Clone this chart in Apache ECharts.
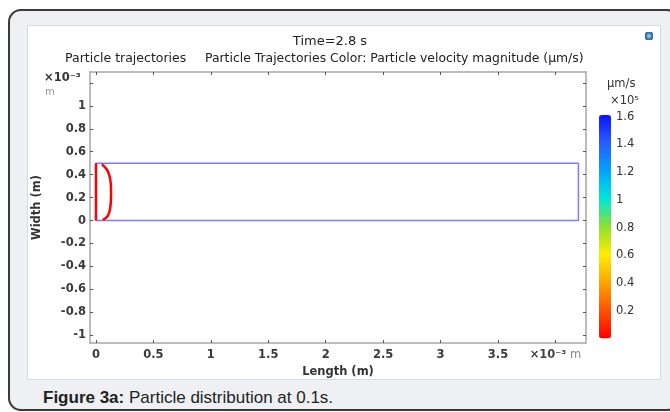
<!DOCTYPE html>
<html>
<head>
<meta charset="utf-8">
<script src="https://cdn.jsdelivr.net/npm/echarts@6/dist/echarts.min.js"></script>
<style>
  html, body { margin: 0; padding: 0; background: #fff; }
  .page { position: relative; width: 670px; height: 412px; overflow: hidden; }
  .panel {
    position: absolute; left: 8px; top: 9px; width: 668px; height: 398px;
    border: 2px solid #3a3a3a; border-radius: 13px; background: #eef0f3;
  }
  .plot-bg {
    position: absolute; left: 27px; top: 25px; width: 632px; height: 353px;
    background: #fff; border: 1px solid #d6d9dd;
  }
  .caption {
    position: absolute; left: 43px; top: 388px;
    font-family: "Liberation Sans", Arial, sans-serif; font-size: 17px; color: #222;
  }
  .caption b { font-weight: bold; }
  #chart { position: absolute; left: 0; top: 0; width: 670px; height: 412px; }
</style>
</head>
<body>
<div class="page">
  <div class="panel"></div>
  <div class="plot-bg"></div>
  <div class="caption"><b>Figure 3a:</b> Particle distribution at 0.1s.</div>
  <div id="chart"></div>
</div>
<script>
// axis ranges (x10^-3 m)
const xRange = [-0.052, 4.266]
const yRange = [-1.068, 1.295]
const xTicks = [0, 0.5, 1, 1.5, 2, 2.5, 3, 3.5, 4]
const yTicks = [-1, -0.8, -0.6, -0.4, -0.2, 0, 0.2, 0.4, 0.6, 0.8, 1, 1.2]
const yLabelTicks = [-1, -0.8, -0.6, -0.4, -0.2, 0, 0.2, 0.4, 0.6, 0.8, 1]

// channel geometry and particle trajectories
const channelOutline = [[0, 0], [4.2, 0], [4.2, 0.5], [0, 0.5]]
const inletLine = [[0, 0], [0, 0.5]]
const particleFront = [
  [0.05, 0.49], [0.078, 0.465], [0.105, 0.425], [0.124, 0.36], [0.131, 0.28],
  [0.131, 0.2], [0.125, 0.12], [0.112, 0.06], [0.09, 0.025], [0.058, 0.008]
]

// colour legend (x10^5 µm/s)
const colorRange = [0, 1.608]
const colorTicks = [0.2, 0.4, 0.6, 0.8, 1, 1.2, 1.4, 1.6]
const rainbow = ['#ff0000', '#ff5200', '#ffa400', '#ffee00', '#8ee030', '#00e6d8', '#00a4ff', '#2a5cff', '#0a14ff']

const FONT = '"DejaVu Sans", "Open Sans", sans-serif'
const axisGrey = '#a6a6a6'
const tickDark = '#555'

const chart = echarts.init(document.getElementById('chart'), null, { renderer: 'canvas' })

function boxAxis(pos, range, ticks, extra) {
  return Object.assign({
    type: 'value',
    gridIndex: 0,
    position: pos,
    min: range[0],
    max: range[1],
    axisLine: { show: true, onZero: false, lineStyle: { color: axisGrey, width: 1.5 } },
    axisTick: { show: true, inside: true, length: 3, customValues: ticks, lineStyle: { color: tickDark, width: 1 } },
    axisLabel: { show: false },
    splitLine: { show: false }
  }, extra)
}

const labelStyle = { color: '#3a3a3a', fontSize: 11.5, fontWeight: 'bold', fontFamily: FONT }

chart.setOption({
  animation: false,
  textStyle: { fontFamily: FONT },
  grid: [
    { left: 90, top: 72, width: 496, height: 271 },
    { left: 599, top: 115.5, width: 12, height: 223 }
  ],
  xAxis: [
    boxAxis('bottom', xRange, xTicks, {
      name: 'Length (m)',
      nameLocation: 'middle',
      nameGap: 20,
      nameTextStyle: { color: '#333', fontSize: 11.5, fontWeight: 'bold', fontFamily: FONT },
      axisLabel: Object.assign({
        show: true,
        customValues: xTicks,
        margin: 6,
        formatter: v => (v === 4 ? '{a|×10⁻³}{b| m}' : String(v)),
        rich: {
          a: { color: '#444', fontSize: 11.5, fontWeight: 'bold', fontFamily: FONT },
          b: { color: '#888', fontSize: 11.5, fontWeight: 'normal', fontFamily: FONT }
        }
      }, labelStyle)
    }),
    boxAxis('top', xRange, xTicks, {}),
    { type: 'value', gridIndex: 1, show: false, min: 0, max: 1 }
  ],
  yAxis: [
    boxAxis('left', yRange, yTicks, {
      name: 'Width (m)',
      nameLocation: 'middle',
      nameGap: 47,
      nameTextStyle: { color: '#333', fontSize: 11.5, fontWeight: 'bold', fontFamily: FONT },
      axisLabel: Object.assign({ show: true, customValues: yLabelTicks, margin: 4 }, labelStyle)
    }),
    boxAxis('right', yRange, yTicks, {}),
    {
      type: 'value',
      gridIndex: 1,
      position: 'right',
      min: colorRange[0],
      max: colorRange[1],
      axisLine: { show: false },
      axisTick: { show: true, length: 3, customValues: colorTicks, lineStyle: { color: '#333' } },
      axisLabel: { show: true, customValues: colorTicks, margin: 5, color: '#333', fontSize: 11.5, fontFamily: FONT },
      splitLine: { show: false }
    }
  ],
  visualMap: {
    type: 'continuous',
    seriesIndex: [],
    min: colorRange[0],
    max: colorRange[1],
    left: 599,
    top: 115,
    padding: 0,
    itemWidth: 12,
    itemHeight: 223.5,
    calculable: false,
    text: null,
    inRange: { color: rainbow }
  },
  graphic: [
    { type: 'text', x: 330, y: 42, style: { text: 'Time=2.8 s', fill: '#222', font: '13px ' + FONT, textAlign: 'center', textVerticalAlign: 'middle' } },
    { type: 'text', x: 65, y: 59, style: { text: 'Particle trajectories', fill: '#222', font: '12.5px ' + FONT, textAlign: 'left', textVerticalAlign: 'middle' } },
    { type: 'text', x: 205, y: 59, style: { text: 'Particle Trajectories Color: Particle velocity magnitude (µm/s)', fill: '#222', font: '12.4px ' + FONT, textAlign: 'left', textVerticalAlign: 'middle' } },
    { type: 'text', x: 44, y: 78, style: { text: '×10⁻³', fill: '#333', font: 'bold 11.5px ' + FONT, textAlign: 'left', textVerticalAlign: 'middle' } },
    { type: 'text', x: 45, y: 92, style: { text: 'm', fill: '#999', font: '10px ' + FONT, textAlign: 'left', textVerticalAlign: 'middle' } },
    { type: 'text', x: 607, y: 84, style: { text: 'µm/s', fill: '#333', font: '11.5px ' + FONT, textAlign: 'left', textVerticalAlign: 'middle' } },
    { type: 'text', x: 610, y: 101, style: { text: '×10⁵', fill: '#333', font: '11.5px ' + FONT, textAlign: 'left', textVerticalAlign: 'middle' } },
    {
      type: 'rect', shape: { x: 645, y: 32, width: 8, height: 8, r: 2 },
      style: { fill: new echarts.graphic.RadialGradient(0.5, 0.5, 0.6, [{ offset: 0, color: '#f4e04a' }, { offset: 0.5, color: '#3a8fd8' }, { offset: 1, color: '#1d4fb0' }]) }
    }
  ],
  series: [
    {
      name: 'Channel',
      type: 'line',
      xAxisIndex: 0,
      yAxisIndex: 0,
      data: channelOutline.concat([channelOutline[0]]),
      showSymbol: false,
      silent: true,
      lineStyle: { color: '#7c7cf6', width: 1.5 }
    },
    {
      name: 'Inlet particles',
      type: 'line',
      xAxisIndex: 0,
      yAxisIndex: 0,
      data: inletLine,
      showSymbol: false,
      silent: true,
      lineStyle: { color: '#ff0000', width: 2.5 }
    },
    {
      name: 'Particle front',
      type: 'line',
      xAxisIndex: 0,
      yAxisIndex: 0,
      data: particleFront,
      smooth: true,
      showSymbol: false,
      silent: true,
      lineStyle: { color: '#ff0000', width: 2.5 }
    }
  ]
})
</script>
</body>
</html>
